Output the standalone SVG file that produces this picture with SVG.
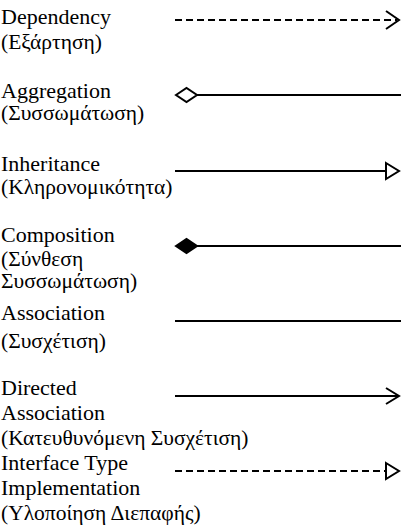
<svg xmlns="http://www.w3.org/2000/svg" width="401" height="527" viewBox="0 0 401 527">
<style>
.en{font-size:22px}
.gr{font-size:21.5px}
.ln{stroke:#000;stroke-width:2;fill:none}
.dash{stroke-dasharray:7,4}
.open{fill:#fff;stroke:#000;stroke-width:2}
.solid{fill:#000;stroke:#000;stroke-width:2}
</style>
<rect width="401" height="527" fill="#fff"/>
<g font-family="Liberation Serif, DejaVu Serif, serif" fill="#000">
<g id="dependency">
<text class="en" x="1" y="24">Dependency</text>
<text class="gr" x="1" y="49">(Εξάρτηση)</text>
</g>
<g id="aggregation">
<text class="en" x="1" y="98">Aggregation</text>
<text class="gr" x="1" y="120">(Συσσωμάτωση)</text>
</g>
<g id="inheritance">
<text class="en" x="1" y="171">Inheritance</text>
<text class="gr" x="1" y="194">(Κληρονομικότητα)</text>
</g>
<g id="composition">
<text class="en" x="1" y="242">Composition</text>
<text class="gr" x="1" y="266">(Σύνθεση</text>
<text class="gr" x="1" y="288">Συσσωμάτωση)</text>
</g>
<g id="association">
<text class="en" x="1" y="320">Association</text>
<text class="gr" x="1" y="348">(Συσχέτιση)</text>
</g>
<g id="directed-association">
<text class="en" x="1" y="395">Directed</text>
<text class="en" x="1" y="420">Association</text>
<text class="gr" x="1" y="445">(Κατευθυνόμενη Συσχέτιση)</text>
</g>
<g id="interface-implementation">
<text class="en" x="1" y="470">Interface Type</text>
<text class="en" x="1" y="495">Implementation</text>
<text class="gr" x="1" y="520">(Υλοποίηση Διεπαφής)</text>
</g>
</g>
<g id="connectors">
<line class="ln dash" x1="175" y1="20" x2="397" y2="20"/>
<polyline class="ln" points="386,11 399,20 386,29"/>
<line class="ln" x1="197" y1="95" x2="401" y2="95"/>
<polygon class="open" points="176,95 186.5,88 197,95 186.5,102"/>
<line class="ln" x1="175" y1="171" x2="386" y2="171"/>
<polygon class="open" points="386,163 399,171 386,179"/>
<line class="ln" x1="197" y1="246" x2="401" y2="246"/>
<polygon class="solid" points="176,246 186.5,239 197,246 186.5,253"/>
<line class="ln" x1="175" y1="321" x2="401" y2="321"/>
<line class="ln" x1="175" y1="396" x2="398" y2="396"/>
<polyline class="ln" points="386,388 399,396 386,404"/>
<line class="ln dash" x1="175" y1="471" x2="386" y2="471"/>
<polygon class="open" points="386,463 399,471 386,479"/>
</g>
</svg>
